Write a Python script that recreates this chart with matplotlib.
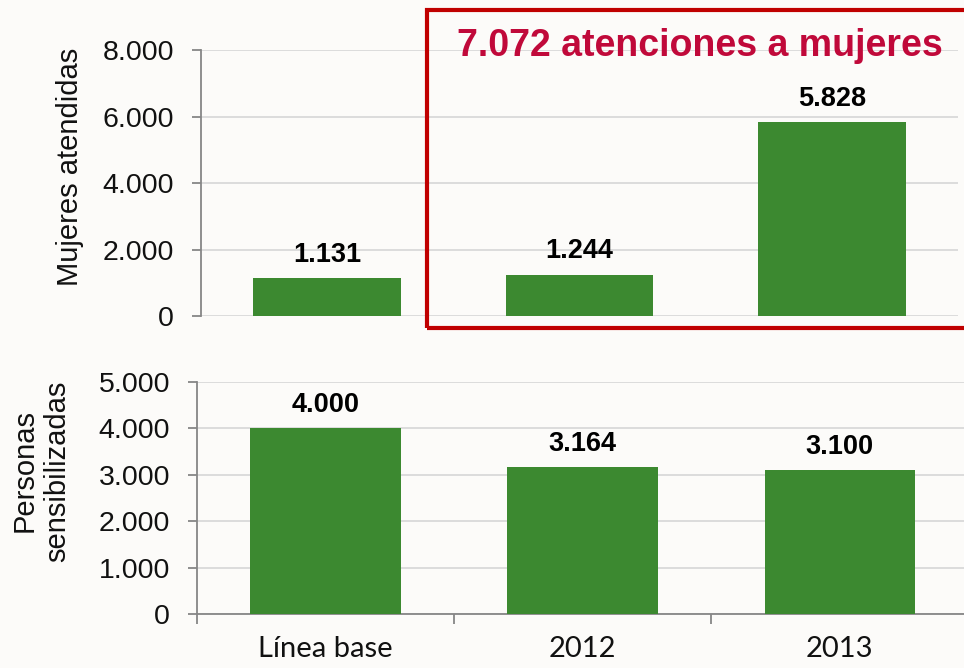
import matplotlib.pyplot as plt
from matplotlib.patches import Rectangle
from matplotlib.ticker import FuncFormatter

categorias = ['Línea base', '2012', '2013']
mujeres_atendidas = [1131, 1244, 5828]
personas_sensibilizadas = [4000, 3164, 3100]
total_atenciones = 7072

verde = '#3c8930'
gris_rejilla = '#d9d9d9'
gris_eje = '#868686'
rojo = '#c00000'

plt.rcParams['font.family'] = ['Liberation Sans', 'DejaVu Sans']


def miles(v, pos=None):
    # separador de miles con punto
    return f'{int(v):,}'.replace(',', '.')


def estilo_eje(ax, ymax, paso):
    ax.set_facecolor('none')
    ax.set_ylim(0, ymax)
    ax.set_yticks(range(0, ymax + 1, paso))
    ax.yaxis.set_major_formatter(FuncFormatter(miles))
    ax.grid(axis='y', color=gris_rejilla, lw=1.3)
    ax.set_axisbelow(True)
    for lado in ['top', 'right']:
        ax.spines[lado].set_visible(False)
    ax.spines['left'].set_color(gris_eje)
    ax.spines['left'].set_linewidth(1.3)
    ax.tick_params(axis='y', labelsize=20.5, length=6.5, width=1.3,
                   color=gris_eje, pad=13, labelcolor='#111111')
    ax.set_xlim(-0.5, 2.5)


def etiquetas(ax, valores):
    for x, v in zip(range(len(valores)), valores):
        ax.annotate(miles(v), (x, v), xytext=(0, 12), textcoords='offset points',
                    ha='center', va='baseline', fontsize=19.5, fontweight='bold')


fig = plt.figure(figsize=(9.64, 6.68), dpi=100)
fig.patch.set_facecolor('#fcfbf9')

# panel superior: mujeres atendidas
ax1 = fig.add_axes([0.2085, 0.5269, 0.7853, 0.3982])
ax1.bar(range(3), mujeres_atendidas, width=0.585, color=verde, zorder=3)
estilo_eje(ax1, 8000, 2000)
ax1.spines['bottom'].set_visible(False)
ax1.set_xticks([])
etiquetas(ax1, mujeres_atendidas)

# panel inferior: personas sensibilizadas
ax2 = fig.add_axes([0.2044, 0.0808, 0.80, 0.3473])
ax2.bar(range(3), personas_sensibilizadas, width=0.585, color=verde, zorder=3)
estilo_eje(ax2, 5000, 1000)
ax2.spines['bottom'].set_color(gris_eje)
ax2.spines['bottom'].set_linewidth(1.3)
ax2.set_xticks([-0.5, 0.5, 1.5, 2.5])
ax2.set_xticklabels([])
ax2.set_xticks(range(3), minor=True)
ax2.set_xticklabels(categorias, minor=True, family=['Lato', 'DejaVu Sans'])
ax2.tick_params(axis='x', which='major', length=7, width=1.3, color=gris_eje)
ax2.tick_params(axis='x', which='minor', length=0, pad=16, labelsize=21,
                labelcolor='#111111')
etiquetas(ax2, personas_sensibilizadas)

fig.text(70 / 964, 1 - 167 / 668, 'Mujeres atendidas', rotation=90,
         ha='center', va='center', fontsize=21, color='#111111')
fig.text(41 / 964, 1 - 471 / 668, 'Personas\nsensibilizadas', rotation=90,
         ha='center', va='center', fontsize=21, color='#111111',
         linespacing=1.2)

# recuadro del total de atenciones
fig.patches.append(Rectangle((427 / 964, 1 - 328 / 668), 0.6, 318 / 668,
                             transform=fig.transFigure, fill=False,
                             edgecolor=rojo, lw=3, zorder=5))
fig.text(700 / 964, 1 - 46 / 668, f'{miles(total_atenciones)} atenciones a mujeres',
         ha='center', va='center', fontsize=27, fontweight='bold', color='#c0093a')

fig.savefig('out.png', dpi=100, facecolor=fig.get_facecolor())
